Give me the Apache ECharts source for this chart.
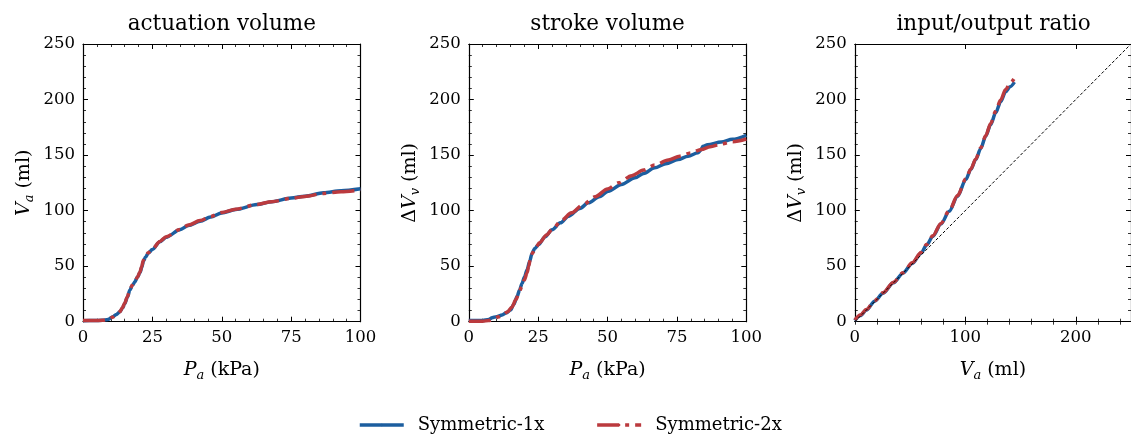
<!DOCTYPE html>
<html>
<head>
<meta charset="utf-8">
<script src="https://cdn.jsdelivr.net/npm/echarts@6/dist/echarts.min.js"></script>
<style>
html,body{margin:0;padding:0;background:#fff;}
#c{width:1131px;height:437px;}
</style>
</head>
<body>
<div id="c"></div>
<script>
// ---------- data ----------
const titles = ['actuation volume', 'stroke volume', 'input/output ratio'];
const seriesNames = ['Symmetric-1x', 'Symmetric-2x'];

const xTicksP = [0, 25, 50, 75, 100];
const yTicks = [0, 50, 100, 150, 200, 250];
const xTicksVa = [0, 100, 200];

// Panel 1: actuation volume (P_a kPa -> V_a ml)
const p1P_1x  = [0, 4, 7, 9, 10.8, 12, 13.3, 14.2, 15, 16, 16.9, 17.8, 18.7, 19.6, 20.5, 21.2, 21.7, 22.5, 23.5, 25, 27.7, 30, 34.9, 38, 42.2, 46, 50, 55, 62.7, 68, 75, 80, 86.7, 93, 100];
const p1Va_1x = [0.9, 1, 1.3, 2, 4.5, 6.5, 9, 12, 16, 22, 28.6, 32.5, 36, 40, 44, 49, 54, 58, 61.7, 65, 72, 76, 82.8, 86.5, 90.4, 94.3, 97.9, 101, 105.4, 108, 111.4, 113, 116, 117.8, 119.6];
const p1P_2x  = [0, 4, 7, 9, 10.8, 12, 13.3, 14.2, 15, 16, 16.9, 17.8, 18.7, 19.6, 20.5, 21.2, 21.7, 22.5, 23.5, 25, 27.7, 30, 34.9, 38, 42.2, 46, 50, 55, 62.7, 68, 75, 80, 86.7, 93, 100];
const p1Va_2x = [1, 1, 1.2, 2, 4.3, 6.3, 9, 12.5, 16.5, 22.5, 29, 33, 36.5, 40, 44.5, 50, 55, 58.5, 62, 65.3, 72.3, 76.5, 83, 87, 91, 94.8, 98.3, 101.3, 105.6, 108, 111, 112.8, 115.5, 117, 118.5];

// Panel 2: stroke volume (P_a kPa -> dV_v ml)
const p2P_1x  = [0, 5, 7.2, 8.4, 10, 12, 13.5, 15, 16.2, 17.4, 18.3, 19.2, 20.1, 21, 21.9, 22.8, 23.8, 25.1, 27.5, 30, 33, 35.9, 40, 43.1, 47, 50.3, 55, 59.9, 63, 67, 71, 75.4, 79, 82.6, 83.5, 84.4, 86, 91, 95, 100];
const p2dV_1x = [1, 1, 2, 3.6, 4.5, 6, 8, 10.5, 15.5, 22.6, 28.5, 34.6, 40.5, 46.7, 54, 61.7, 66, 69.3, 76.5, 82.8, 89, 94.9, 102, 107, 112.5, 117.5, 123.5, 129.5, 133.5, 138.6, 142.3, 146, 149, 152, 154, 158, 159.2, 161.7, 164.2, 167.8];
const p2P_2x  = [0, 5, 7.2, 9, 10.8, 12.5, 14, 15.5, 17, 18, 19, 20, 21, 21.6, 22.2, 23, 24, 25.5, 28, 30, 33.5, 37, 41, 45.5, 50, 54, 58.7, 63, 67, 71.9, 76, 80, 83.8, 87, 91, 95, 100];
const p2dV_2x = [0.5, 0.5, 1, 2.5, 4.5, 6.5, 9, 13, 20, 25.6, 31, 37.5, 44, 50, 57, 62, 66.5, 71, 78, 83, 91.5, 98, 105, 112.5, 119.5, 125, 131.5, 136.5, 141, 145.5, 149, 152, 155, 157.5, 160, 162, 164.5];

// Panel 3: input/output ratio (V_a ml -> dV_v ml)
const p3Va_1x = [0, 5, 10.5, 18, 25.5, 35, 43.5, 52, 60, 65, 70.5, 78, 85.5, 93, 100.5, 105, 109.5, 114, 118.5, 123, 127.5, 132, 136.5, 140.5, 144.5];
const p3dV_1x = [1, 5.5, 10.5, 18.5, 25.6, 35, 43.7, 52.5, 61.7, 69, 76.8, 88, 99.4, 113, 128, 137, 146, 156, 167, 177.5, 188, 198, 207, 211.5, 215.7];
const p3Va_2x = [0, 5, 10.5, 18, 25.5, 35, 43.5, 52, 60, 65, 70.5, 78, 85.5, 93, 100.5, 105, 109.5, 114, 118.5, 123, 127.5, 132, 136.5, 140.5, 144];
const p3dV_2x = [1.5, 6, 11, 19, 26, 35.5, 44, 53, 62.2, 69.5, 77.3, 88.5, 100, 113.5, 128.5, 137.5, 146.5, 156.5, 167.5, 178.5, 189.5, 199.5, 209, 214.5, 218.5];

const identityLine = [0, 250];

// ---------- style ----------
const FONT = 'DejaVu Serif';
const BLUE = '#1c5e9f';
const RED = '#bb3a3e';
const GRID_W = 277.5, GRID_TOP = 44, GRID_H = 277.7;
const lefts = [83, 468.8, 854.8];

const zip = (a, b) => a.map((v, i) => [v, b[i]]);

const axisLine = {show: true, onZero: false, lineStyle: {color: '#000', width: 1.2}};
const tickStyle = {color: '#000', width: 1};
const NFS = 19;
const richName = {
  i: {fontStyle: 'italic', fontFamily: FONT, fontSize: NFS, lineHeight: 24, color: '#000'},
  n: {fontFamily: FONT, fontSize: NFS, lineHeight: 24, color: '#000'},
  s: {fontStyle: 'italic', fontFamily: FONT, fontSize: 13, lineHeight: 11, verticalAlign: 'bottom', color: '#000'}
};
const nameStyle = {fontFamily: FONT, fontSize: NFS, color: '#000', lineHeight: 24, rich: richName};

function baseAxis(gridIndex, position, min, max, interval, showLabel, ticks) {
  return {
    type: 'value', gridIndex, position, min, max, interval,
    axisLine,
    axisTick: {show: true, inside: true, length: 5, lineStyle: tickStyle},
    minorTick: {show: true, splitNumber: 5, length: 3, lineStyle: {color: '#000', width: 0.8}},
    splitLine: {show: false},
    minorSplitLine: {show: false},
    axisLabel: {show: showLabel, color: '#000', fontFamily: FONT, fontSize: 16.5, margin: 8,
      customValues: ticks},
  };
}

const xAxes = [];
const yAxes = [];
for (let g = 0; g < 2; g++) {
  const xb = baseAxis(g, 'bottom', 0, 100, 25, true, xTicksP);
  xb.name = '{i|P}{s|a} (kPa)';
  xb.nameLocation = 'middle';
  xb.nameGap = 36;
  xb.nameTextStyle = nameStyle;
  xAxes.push(xb);
  xAxes.push(baseAxis(g, 'top', 0, 100, 25, false, xTicksP));
}
// panel 3 x axes (major + separate minor ticks)
{
  const xb = baseAxis(2, 'bottom', 0, 250, 100, true, xTicksVa);
  xb.axisTick.customValues = xTicksVa;
  xb.minorTick = {show: false};
  xb.name = '{i|V}{s|a} (ml)';
  xb.nameLocation = 'middle';
  xb.nameGap = 36;
  xb.nameTextStyle = nameStyle;
  xAxes.push(xb);
  const xt = baseAxis(2, 'top', 0, 250, 100, false, xTicksVa);
  xt.axisTick.customValues = xTicksVa;
  xt.minorTick = {show: false};
  xAxes.push(xt);
  ['bottom', 'top'].forEach(pos => {
    xAxes.push({
      type: 'value', gridIndex: 2, position: pos, min: 0, max: 250, interval: 20,
      axisLine: {show: false},
      axisTick: {show: true, inside: true, length: 3, lineStyle: {color: '#000', width: 0.8}},
      axisLabel: {show: false}, splitLine: {show: false}
    });
  });
}
const yNames = ['{i|V}{s|a} (ml)', '{n|Δ}{i|V}{s|v} (ml)', '{n|Δ}{i|V}{s|v} (ml)'];
for (let g = 0; g < 3; g++) {
  const yl = baseAxis(g, 'left', 0, 250, 50, true, yTicks);
  yl.name = yNames[g];
  yl.nameLocation = 'middle';
  yl.nameGap = 47;
  yl.nameTextStyle = nameStyle;
  yAxes.push(yl);
  yAxes.push(baseAxis(g, 'right', 0, 250, 50, false, yTicks));
}

function lineSeries(name, xi, yi, data, color, dashed) {
  return {
    type: 'line', name, xAxisIndex: xi, yAxisIndex: yi, data,
    symbol: 'none', smooth: 0.3, smoothMonotone: 'x',
    lineStyle: {color, width: 3.5, type: dashed ? [22, 6, 4, 6] : 'solid', cap: 'butt'},
    itemStyle: {color},
    z: dashed ? 4 : 3,
    animation: false
  };
}

const series = [
  lineSeries(seriesNames[0], 0, 0, zip(p1P_1x, p1Va_1x), BLUE, false),
  lineSeries(seriesNames[1], 0, 0, zip(p1P_2x, p1Va_2x), RED, true),
  lineSeries(seriesNames[0], 2, 2, zip(p2P_1x, p2dV_1x), BLUE, false),
  lineSeries(seriesNames[1], 2, 2, zip(p2P_2x, p2dV_2x), RED, true),
  {
    type: 'line', name: 'identity', xAxisIndex: 4, yAxisIndex: 4,
    data: zip(identityLine, identityLine), symbol: 'none',
    lineStyle: {color: '#000', width: 1, type: [3, 2]}, z: 5, animation: false, silent: true
  },
  lineSeries(seriesNames[0], 4, 4, zip(p3Va_1x, p3dV_1x), BLUE, false),
  lineSeries(seriesNames[1], 4, 4, zip(p3Va_2x, p3dV_2x), RED, true),
];

const chart = echarts.init(document.getElementById('c'), null, {renderer: 'canvas'});
chart.setOption({
  backgroundColor: '#fff',
  animation: false,
  title: titles.map((t, i) => ({
    text: t, left: lefts[i] + GRID_W / 2, top: 13, textAlign: 'center', padding: 0,
    textStyle: {fontFamily: FONT, fontSize: 21.5, fontWeight: 'normal', color: '#000'}
  })),
  grid: lefts.map(l => ({left: l, top: GRID_TOP, width: GRID_W, height: GRID_H, containLabel: false})),
  xAxis: xAxes,
  yAxis: yAxes,
  legend: {
    data: seriesNames, left: 358, top: 415, padding: 0, itemWidth: 44, itemHeight: 3, itemGap: 51,
    lineStyle: {width: 3.5},
    textStyle: {fontFamily: FONT, fontSize: 18, lineHeight: 20, color: '#000', padding: [0, 0, 0, 9]}
  },
  series
});
</script>
</body>
</html>
